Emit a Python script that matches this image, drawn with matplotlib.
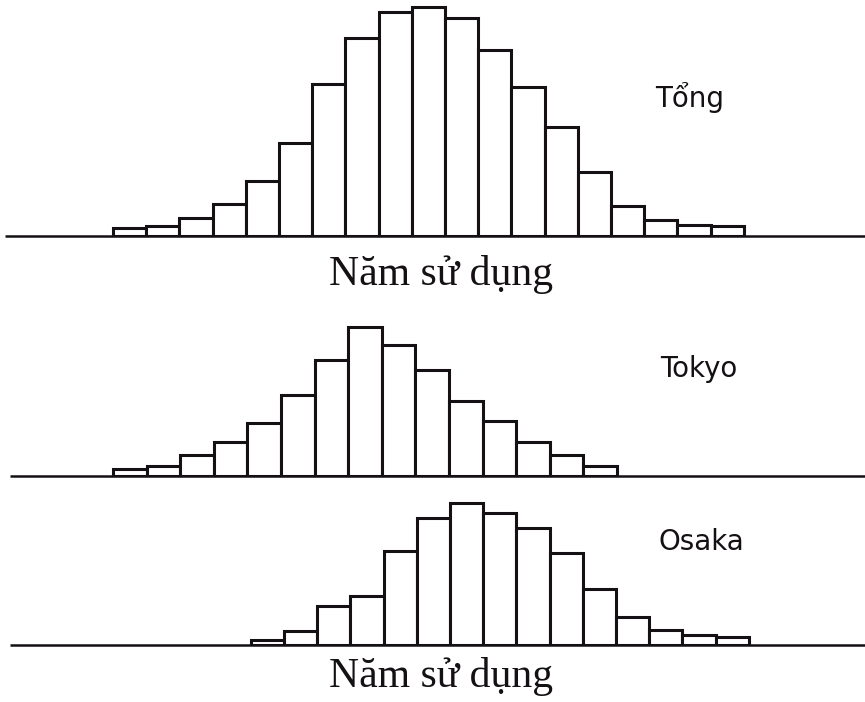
import matplotlib.pyplot as plt

W, H = 865, 702
BIN_PX = 33.2      # width of one bin in pixels
ORIGIN_PX = 113    # left edge of bin 0 in pixels

# bar heights per bin (arbitrary units, same scale in every panel)
tong_counts = [8, 10, 18, 32, 55, 93, 152, 198, 224, 229, 218, 186, 149, 109, 64, 30, 16, 11, 10]
tokyo_counts = [7, 10, 21, 34, 53, 81, 116, 149, 131, 106, 75, 55, 34, 21, 10]
osaka_counts = [5, 14, 39, 49, 94, 127, 142, 132, 117, 92, 56, 28, 15, 10, 8]

tong_start = 0
tokyo_start = 0
osaka_start = 4.15

labels = ['Tổng', 'Tokyo', 'Osaka']
xlabel = 'Năm sử dụng'

ink = '#141014'

fig = plt.figure(figsize=(W / 100, H / 100), dpi=100)

# (counts, first bin, bin width, name, baseline y px, panel height px, name pos px, line start px)
panels = [
    (tong_counts, tong_start, 1.0, labels[0], 236, 236, (655, 107), 5),
    (tokyo_counts, tokyo_start, 1.012, labels[1], 476, 160, (660, 377), 10),
    (osaka_counts, osaka_start, 1.0, labels[2], 645, 150, (659, 550), 10),
]

x_lo = -ORIGIN_PX / BIN_PX
x_hi = (W - ORIGIN_PX) / BIN_PX

for counts, start, bw, name, base, height, (tx, ty), line_x in panels:
    ax = fig.add_axes([0, (H - base) / H, 1, height / H])
    ax.set_xlim(x_lo, x_hi)
    ax.set_ylim(0, height)
    ax.axis('off')
    xs = [start + i * bw for i in range(len(counts))]
    ax.bar(xs, counts, width=bw, align='edge', color='white',
           edgecolor=ink, linewidth=2.2, zorder=2)
    ax.plot([(line_x - ORIGIN_PX) / BIN_PX, x_hi], [0, 0], color=ink,
            lw=1.8, solid_capstyle='butt', clip_on=False, zorder=3)
    fig.text(tx / W, 1 - ty / H, name, fontsize=20, color=ink,
             ha='left', va='baseline', family='DejaVu Sans')

for by in [285, 687]:
    fig.text(441 / W, 1 - by / H, xlabel, fontsize=30, color=ink,
             ha='center', va='baseline', family='Liberation Serif')

plt.savefig('out.png', dpi=100)
